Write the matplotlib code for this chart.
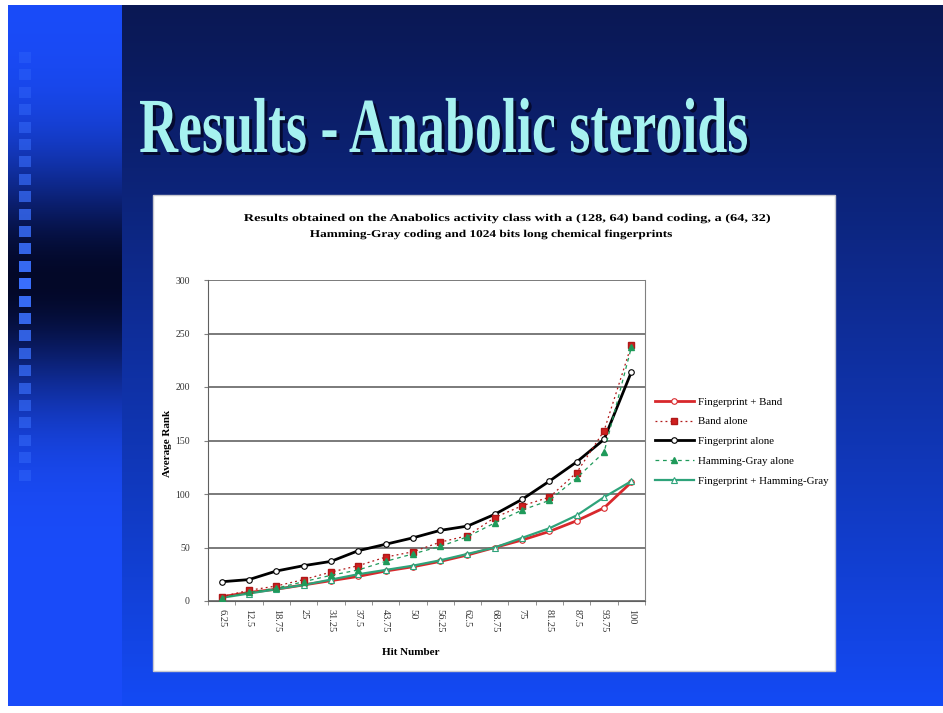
import numpy as np
import matplotlib.pyplot as plt
from matplotlib.patches import Rectangle, PathPatch
from matplotlib.textpath import TextPath
from matplotlib.font_manager import FontProperties
from matplotlib.transforms import Affine2D

hit_number = ["6.25", "12.5", "18.75", "25", "31.25", "37.5", "43.75", "50",
              "56.25", "62.5", "68.75", "75", "81.25", "87.5", "93.75", "100"]
fp_band = [4, 8, 11, 15, 19, 23, 28, 32, 37, 43, 50, 57, 65, 75, 87, 111]
band_alone = [4, 10, 14, 20, 27, 33, 41, 46, 55, 61, 78, 89, 97, 120, 159, 239]
fp_alone = [18, 20, 28, 33, 37, 47, 53, 59, 66, 70, 81, 95, 112, 130, 151, 214]
hg_alone = [3, 8, 12, 18, 24, 29, 37, 44, 51, 60, 73, 85, 94, 115, 139, 237]
fp_hg = [3, 7, 11, 15, 20, 25, 29, 33, 38, 44, 50, 59, 68, 80, 97, 112]

W, H = 943, 713
serif_bold = FontProperties(family="Liberation Serif", weight="bold")


def draw_text(ax, s, x, y, size_px, width, ha="left", color="black", zorder=3):
    # text as a path, squeezed or stretched to a given pixel width (y is the baseline)
    tp = TextPath((0, 0), s, size=1, prop=serif_bold)
    ext = tp.get_extents()
    sx = width / ext.width
    x0 = x - (width / 2 if ha == "center" else 0) - ext.x0 * sx
    tr = Affine2D().scale(sx, -size_px).translate(x0, y) + ax.transData
    ax.add_patch(PathPatch(tp, transform=tr, facecolor=color, lw=0, zorder=zorder))


fig = plt.figure(figsize=(W / 100, H / 100), dpi=100)
fig.patch.set_facecolor("white")

# slide background
bg = fig.add_axes([0, 0, 1, 1])
bg.set_xlim(0, W)
bg.set_ylim(H, 0)
bg.axis("off")
yy = np.linspace(0, 1, 400)[:, None]
top = np.array([10, 24, 84]) / 255
bot = np.array([20, 74, 245]) / 255
main = top + (bot - top) * yy[..., None] ** 1.1
main = np.repeat(main, 2, axis=1)
bg.imshow(main, extent=[122, W, 706, 5], aspect="auto", zorder=0)
ys = np.linspace(5, 706, 400)[:, None]
t = np.exp(-((ys - 280) / 120) ** 2)
bright = np.array([26, 76, 250]) / 255
dark = np.array([3, 8, 40]) / 255
strip = bright * (1 - t[..., None]) + dark * t[..., None]
strip = np.repeat(strip, 2, axis=1)
bg.imshow(strip, extent=[8, 122, 706, 5], aspect="auto", zorder=0)
for k in range(25):
    y0 = 52 + k * 17.4
    a = min(1.0, max(0.3, 1 - abs(y0 - 280) / 300))
    bg.add_patch(Rectangle((19, y0), 12, 11, color="#3a70ff", alpha=a, lw=0, zorder=1))

title = "Results - Anabolic steroids"
draw_text(bg, title, 143, 155, 78, 607, color="#050a30", zorder=2)
draw_text(bg, title, 140, 152, 78, 607, color="#a6f2f0", zorder=3)

# white chart box
bg.add_patch(Rectangle((153, 195), 682, 476, facecolor="white", edgecolor="#c8c8d0", lw=1, zorder=2))
draw_text(bg, "Results obtained on the Anabolics activity class with a (128, 64) band coding, a (64, 32)",
          507, 221, 10.5, 526, ha="center")
draw_text(bg, "Hamming-Gray coding and 1024 bits long chemical fingerprints",
          491, 237, 10.5, 362, ha="center")

ax = fig.add_axes([208 / W, 1 - 601 / H, (645 - 208) / W, (601 - 280) / H])
ax.set_facecolor("white")
x = np.arange(len(hit_number))

ax.plot(x, fp_band, color="#d8282c", lw=2, marker="o", ms=4, mfc="white", mec="#d8282c",
        mew=0.8, label="Fingerprint + Band", zorder=4)
ax.plot(x, band_alone, color="#b01818", lw=0.9, ls=(0, (1.5, 2.5)), marker="s", ms=4.5,
        mfc="#d02020", mec="#b01818", label="Band alone", zorder=5)
ax.plot(x, fp_alone, color="black", lw=2, marker="o", ms=4, mfc="white", mec="black",
        mew=0.8, label="Fingerprint alone", zorder=4)
ax.plot(x, hg_alone, color="#1f9a5a", lw=0.9, ls=(0, (3, 3)), marker="^", ms=4.5,
        mfc="#1f9a5a", mec="#1f9a5a", label="Hamming-Gray alone", zorder=5)
ax.plot(x, fp_hg, color="#2ea37a", lw=1.6, marker="^", ms=4, mfc="white", mec="#2ea37a",
        mew=0.8, label="Fingerprint + Hamming-Gray", zorder=4)

ax.set_xlim(-0.5, len(hit_number) - 0.5)
ax.set_ylim(0, 300)
ax.set_yticks(np.arange(0, 301, 50))
ax.yaxis.grid(True, color="#7a7a7a", lw=1.4)
ax.set_axisbelow(True)
ax.set_xticks(x)
ax.set_xticklabels(hit_number, rotation=-90, family="Liberation Serif", fontsize=7.5, color="#333333")
ax.set_xticks(np.arange(-0.5, len(hit_number), 1), minor=True)
ax.tick_params(axis="x", which="major", length=0, pad=6)
ax.tick_params(axis="x", which="minor", length=3, color="#808080", direction="out")
ax.tick_params(axis="y", length=3, color="#808080", labelsize=7, labelcolor="#333333", pad=10)
for lb in ax.get_yticklabels():
    lb.set_family("Liberation Serif")
for s in ax.spines.values():
    s.set_color("#808080")
ax.spines["top"].set_visible(False)
ax.spines["left"].set_color("#606060")
ax.spines["bottom"].set_color("#606060")

ax.set_ylabel("Average Rank", family="Liberation Serif", fontweight="bold", fontsize=8)
ax.yaxis.set_label_coords(-0.082, 0.49)
ax.set_xlabel("Hit Number", family="Liberation Serif", fontweight="bold", fontsize=8)
ax.xaxis.set_label_coords(0.465, -0.146)

leg = ax.legend(loc="center left", bbox_to_anchor=(1.0, 0.497), frameon=False,
                prop={"family": "Liberation Serif", "size": 7.8}, handlelength=3.6,
                labelspacing=0.95, handletextpad=0.4)

fig.savefig("out.png", dpi=100)
